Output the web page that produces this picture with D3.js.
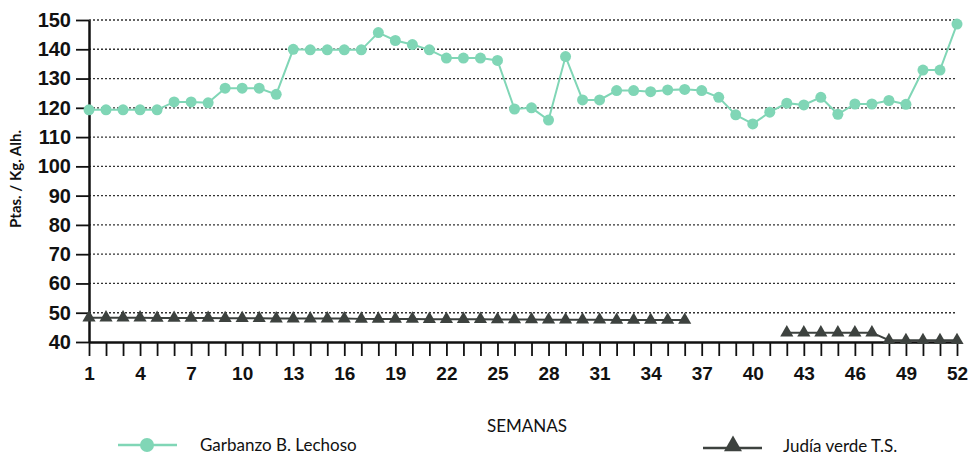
<!DOCTYPE html>
<html lang="es">
<head>
<meta charset="UTF-8">
<title>Garbanzo / Judía verde</title>
<script src="https://cdn.jsdelivr.net/npm/d3@7"></script>
<style>
  body { margin: 0; background: #fff; }
  svg { display: block; font-family: Lato, "Open Sans", sans-serif; }
</style>
</head>
<body>
<div id="chart"></div>
<script>
// Weeks 1..52
const weeks = d3.range(1, 53);

// Garbanzo B. Lechoso (Ptas./Kg)
const garbanzo = [
  119.3, 119.3, 119.3, 119.3, 119.3, 122, 122, 121.7, 126.7, 126.7,
  126.7, 124.6, 140, 139.8, 139.8, 139.8, 139.8, 145.7, 143, 141.6,
  139.8, 137, 137, 137, 136.2, 119.6, 120, 115.8, 137.5, 122.7,
  122.7, 125.9, 125.9, 125.5, 126.1, 126.3, 125.9, 123.6, 117.6, 114.5,
  118.5, 121.6, 121, 123.6, 117.8, 121.3, 121.3, 122.5, 121.2, 132.9,
  132.9, 148.6
];

// Judía verde T.S. (null = no quotation)
const judia = [
  48.3, 48.3, 48.3, 48.3, 48.2, 48.2, 48.2, 48.2, 48.1, 48.1,
  48.1, 48, 48, 48, 48, 48, 47.9, 47.9, 47.9, 47.9,
  47.8, 47.8, 47.8, 47.8, 47.7, 47.7, 47.7, 47.6, 47.6, 47.6,
  47.6, 47.5, 47.5, 47.5, 47.5, 47.5, null, null, null, null,
  null, 43.2, 43.2, 43.2, 43.2, 43.2, 43.2, 40.6, 40.6, 40.6,
  40.6, 40.6
];

const yTicks = d3.range(40, 151, 10);
const xTickLabels = d3.range(1, 53, 3);

const W = 973, H = 459;
const x = d3.scaleLinear().domain([1, 52]).range([89, 957]);
const y = d3.scaleLinear().domain([40, 150]).range([342, 20]);

const svg = d3.select("#chart").append("svg")
  .attr("width", W).attr("height", H);

// dotted grid lines
svg.append("g")
  .selectAll("line")
  .data(yTicks.filter(d => d > 40))
  .join("line")
  .attr("x1", x(1)).attr("x2", x(52))
  .attr("y1", d => y(d)).attr("y2", d => y(d))
  .attr("stroke", "#333")
  .attr("stroke-width", 1.3)
  .attr("stroke-dasharray", "2,2");

// y axis
const yAxis = svg.append("g")
  .attr("transform", "translate(89,0)")
  .call(d3.axisLeft(y).tickValues(yTicks).tickSize(13).tickPadding(5).tickSizeOuter(0));
yAxis.select(".domain").attr("stroke", "#111").attr("stroke-width", 2.5);
yAxis.selectAll(".tick line").attr("stroke", "#111").attr("stroke-width", 1.8);
yAxis.selectAll("text")
  .attr("font-size", 20).attr("font-weight", 600).attr("fill", "#111");

// x axis
const xAxis = svg.append("g")
  .attr("transform", "translate(0,342)")
  .call(d3.axisBottom(x).tickValues(weeks).tickSize(14).tickSizeOuter(0)
    .tickFormat(d => xTickLabels.includes(d) ? d : ""));
xAxis.select(".domain").attr("stroke", "#111").attr("stroke-width", 2.5);
xAxis.selectAll(".tick line").attr("stroke", "#111").attr("stroke-width", 1.8);
xAxis.selectAll("text")
  .attr("font-size", 19).attr("font-weight", 600).attr("fill", "#111")
  .attr("dy", "1.1em");

// axis titles
svg.append("text")
  .attr("x", 527).attr("y", 432)
  .attr("text-anchor", "middle")
  .attr("font-size", 17).attr("fill", "#111")
  .text("SEMANAS");

svg.append("text")
  .attr("transform", "translate(21,179) rotate(-90)")
  .attr("text-anchor", "middle")
  .attr("font-size", 15).attr("font-weight", 700).attr("fill", "#111")
  .attr("textLength", 98).attr("lengthAdjust", "spacing")
  .text("Ptas. / Kg. Alh.");

const green = "#80d6b6";
const dark = "#3d423f";

// Judía verde
const jData = weeks.map((w, i) => ({ w, v: judia[i] }));
svg.append("path")
  .datum(jData)
  .attr("fill", "none")
  .attr("stroke", dark)
  .attr("stroke-width", 2)
  .attr("d", d3.line().defined(d => d.v != null).x(d => x(d.w)).y(d => y(d.v)));

const tri = d3.symbol().type(d3.symbolTriangle).size(75);
svg.append("g")
  .selectAll("path")
  .data(jData.filter(d => d.v != null))
  .join("path")
  .attr("d", tri)
  .attr("transform", d => `translate(${x(d.w)},${y(d.v)})`)
  .attr("fill", dark);

// Garbanzo
const gData = weeks.map((w, i) => ({ w, v: garbanzo[i] }));
svg.append("path")
  .datum(gData)
  .attr("fill", "none")
  .attr("stroke", green)
  .attr("stroke-width", 2)
  .attr("d", d3.line().x(d => x(d.w)).y(d => y(d.v)));

svg.append("g")
  .selectAll("circle")
  .data(gData)
  .join("circle")
  .attr("cx", d => x(d.w))
  .attr("cy", d => y(d.v))
  .attr("r", 5.5)
  .attr("fill", green);

// legend
const lg = svg.append("g");
lg.append("line").attr("x1", 118).attr("x2", 177).attr("y1", 445).attr("y2", 445)
  .attr("stroke", green).attr("stroke-width", 2.5);
lg.append("circle").attr("cx", 147).attr("cy", 445).attr("r", 7).attr("fill", green);
lg.append("text").attr("x", 200).attr("y", 451)
  .attr("font-size", 17).attr("fill", "#111").text("Garbanzo B. Lechoso");

lg.append("line").attr("x1", 703).attr("x2", 762).attr("y1", 448).attr("y2", 448)
  .attr("stroke", dark).attr("stroke-width", 2.5);
lg.append("path").attr("d", d3.symbol().type(d3.symbolTriangle).size(140))
  .attr("transform", "translate(733,446)").attr("fill", dark);
lg.append("text").attr("x", 783).attr("y", 452)
  .attr("font-size", 17).attr("fill", "#111").text("Judía verde T.S.");
</script>
</body>
</html>
